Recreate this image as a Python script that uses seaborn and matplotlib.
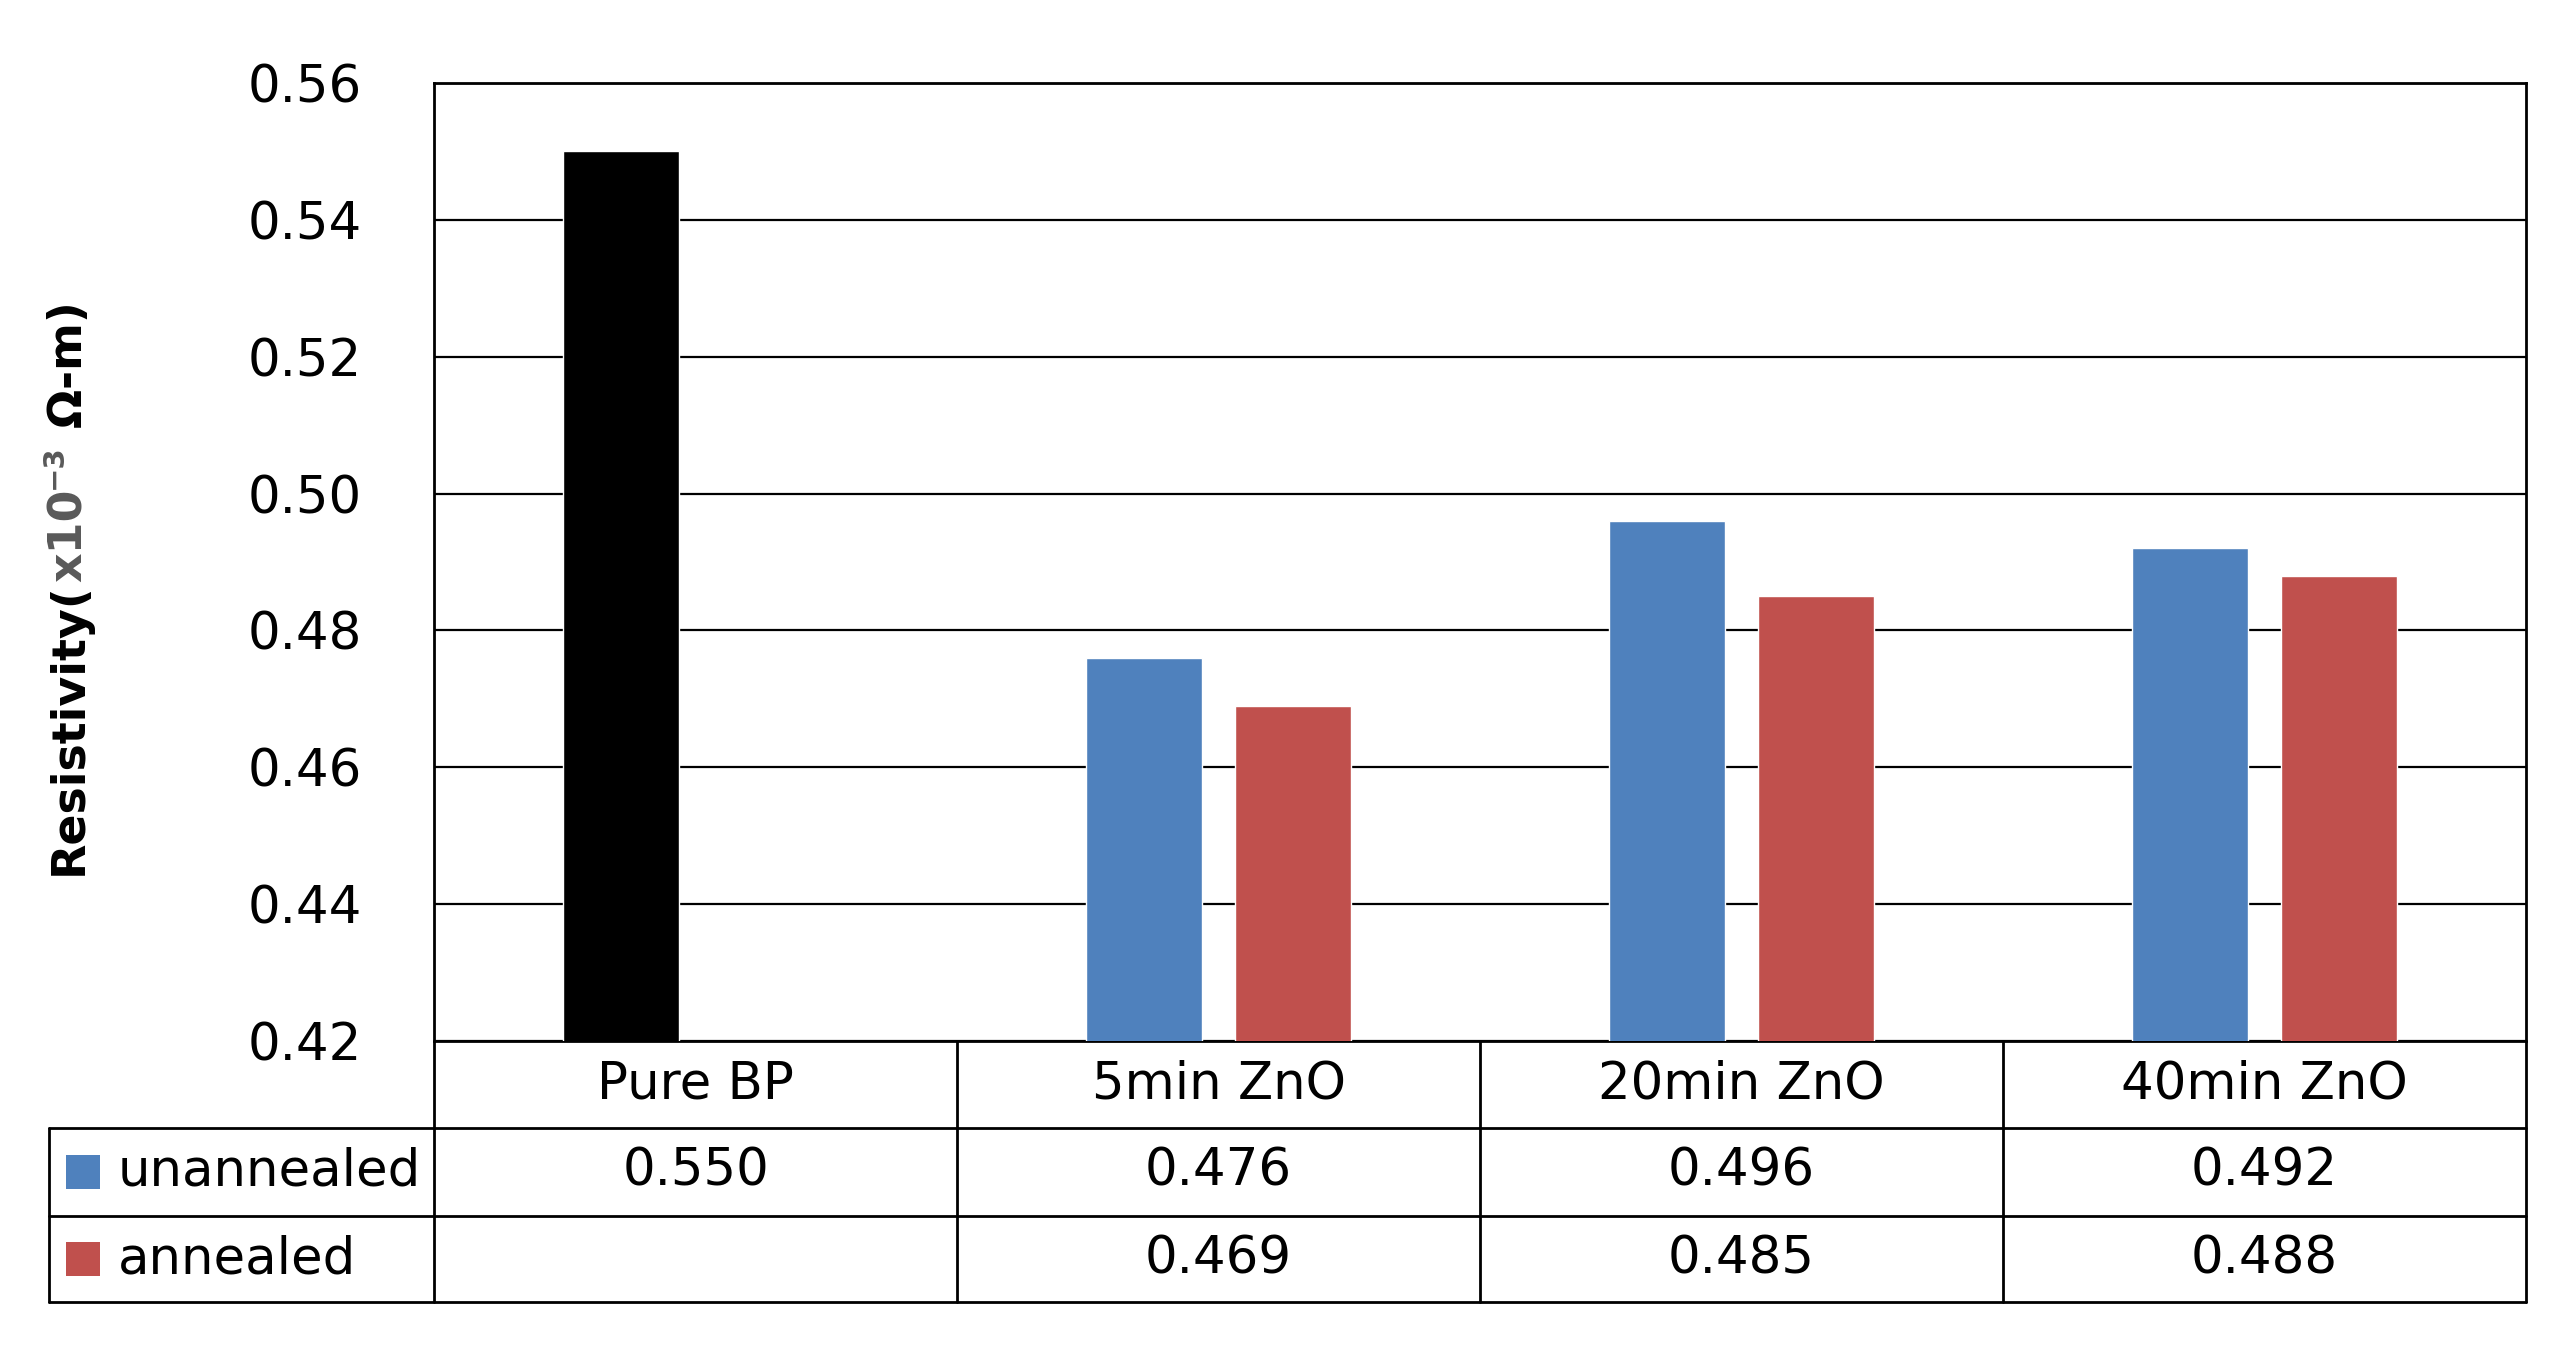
import matplotlib
matplotlib.use("Agg")
import matplotlib.pyplot as plt
import matplotlib.transforms as mtransforms
import pandas as pd
import seaborn as sns

# chart values
categories = ['Pure BP', '5min ZnO', '20min ZnO', '40min ZnO']
series_names = ['unannealed', 'annealed']
unannealed = [0.550, 0.476, 0.496, 0.492]
annealed = [None, 0.469, 0.485, 0.488]
y_ticks = [0.42, 0.44, 0.46, 0.48, 0.50, 0.52, 0.54, 0.56]

blue = '#4F81BD'
red = '#C0504D'

rows = []
for cat, u, a in zip(categories, unannealed, annealed):
    rows.append({'cat': cat, 'series': 'unannealed', 'value': u})
    if a is not None:
        rows.append({'cat': cat, 'series': 'annealed', 'value': a})
df = pd.DataFrame(rows)

sns.set_style("white")
plt.rcParams['font.family'] = ['DejaVu Sans']
plt.rcParams['text.color'] = 'black'
plt.rcParams['ytick.color'] = 'black'

W, H = 2559, 1348
fig = plt.figure(figsize=(W / 100, H / 100), dpi=100)
ax = fig.add_axes([434 / W, 1 - 1041 / H, (2526 - 434) / W, (1041 - 83) / H])

sns.barplot(data=df, x='cat', y='value', hue='series', order=categories,
            hue_order=series_names, palette=[blue, red], width=0.57, gap=0.22,
            saturation=1, ax=ax, legend=False, zorder=3)
# Pure BP bar is drawn black
ax.containers[0][0].set_facecolor('black')

ax.set_xlim(-0.5, 3.5)
ax.set_ylim(0.42, 0.56)
ax.set_yticks(y_ticks)
ax.set_yticklabels([f'{t:.2f}' for t in y_ticks], fontsize=37)
ax.set_xticks([])
ax.set_xlabel('')
ax.set_ylabel('')
ax.tick_params(axis='y', length=0, pad=52)
ax.yaxis.grid(True, color='black', lw=1.6, zorder=0)
for s in ax.spines.values():
    s.set_color('black')
    s.set_linewidth(2)
ax.spines['bottom'].set_visible(False)

# data table below the plot
tr = mtransforms.blended_transform_factory(ax.transData, fig.transFigure)
y_rows = [1 - 1041 / H, 1 - 1128 / H, 1 - 1216 / H, 1 - 1302 / H]
x_left = 49 / W
bounds = [-0.5, 0.5, 1.5, 2.5, 3.5]
lk = dict(color='black', lw=2, clip_on=False)
ax.plot([-0.5, 3.5], [y_rows[0]] * 2, transform=tr, **lk)
for y in y_rows[1:]:
    fig.add_artist(plt.Line2D([x_left, 2526 / W], [y, y], color='black', lw=2))
for b in bounds:
    ax.plot([b, b], [y_rows[0], y_rows[3]], transform=tr, **lk)
fig.add_artist(plt.Line2D([x_left, x_left], [y_rows[1], y_rows[3]], color='black', lw=2))

fs = 37
for i, cat in enumerate(categories):
    ax.text(i, (y_rows[0] + y_rows[1]) / 2, cat, transform=tr, ha='center', va='center', fontsize=fs)
    ax.text(i, (y_rows[1] + y_rows[2]) / 2, f'{unannealed[i]:.3f}', transform=tr,
            ha='center', va='center', fontsize=fs)
    if annealed[i] is not None:
        ax.text(i, (y_rows[2] + y_rows[3]) / 2, f'{annealed[i]:.3f}', transform=tr,
                ha='center', va='center', fontsize=fs)

for name, col, (y0, y1) in zip(series_names, [blue, red], [(y_rows[1], y_rows[2]), (y_rows[2], y_rows[3])]):
    yc = (y0 + y1) / 2
    sq = 34
    fig.add_artist(plt.Rectangle((66 / W, yc - sq / 2 / H), sq / W, sq / H, color=col, lw=0))
    fig.text(118 / W, yc, name, ha='left', va='center', fontsize=fs)

# y axis label in pieces: black / grey / superscript / black
pieces = [('Resistivity(', 'black', 33, 0), ('x10', '#595959', 33, 0),
          ('\u22123', '#595959', 21, -20), (' \u03a9-m)', 'black', 33, 0)]
ident = mtransforms.IdentityTransform()
base_x = 82
texts = []
for s, c, size, dx in pieces:
    t = fig.text(base_x + dx, 0, s, color=c, fontsize=size, fontweight='bold', rotation=90,
                 rotation_mode='anchor', ha='left', va='baseline', transform=ident)
    texts.append(t)
fig.canvas.draw()
r = fig.canvas.get_renderer()
lengths = [t.get_window_extent(r).height for t in texts]
y = (H - 588) - sum(lengths) / 2
for t, L, (s, c, size, dx) in zip(texts, lengths, pieces):
    t.set_position((base_x + dx, y))
    y += L

fig.savefig('out.png', dpi=100, facecolor='white')
